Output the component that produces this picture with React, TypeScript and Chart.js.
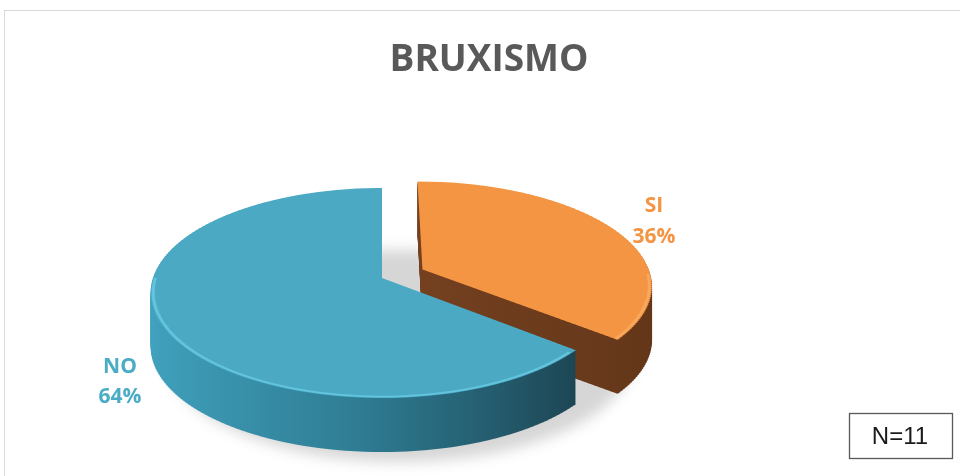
import React, { useEffect, useRef } from "react";
import { Chart, registerables } from "chart.js";

Chart.register(...registerables);

// ---- data ----
const categories = ["SI", "NO"];
const values = [36, 64];
const percentLabels = ["36%", "64%"];
const chartTitle = "BRUXISMO";
const sampleNote = "N=11";

// ---- styles ----
const topColors = ["#F39543", "#4BA9C4"];
const textColors = ["#F39543", "#4BACC6"];
const explode = [46, 0]; // px the slice is pulled out

const W = 960;
const H = 476;
const RADIUS = 233;
const CX = 382;
const CY_S = 278; // screen y of pie centre
const P = 0.143; // vertical perspective strength
const PX = 0.14; // horizontal perspective strength
const A = 102.9; // vertical half-size factor
const BR = 229 / 233; // horizontal scale
const DEPTH = 54;
const STRIP = 2;
const YS_MIN = 170;
const YS_MAX = 404;

// draw fn() through a perspective-like projection, strip by strip
function withStrips(
  ctx: CanvasRenderingContext2D,
  cx: number,
  cy: number,
  t: number,
  vRange: [number, number],
  fn: () => void
) {
  for (let ys = YS_MIN; ys < YS_MAX; ys += STRIP) {
    const y0 = ys - CY_S;
    const y1 = ys + STRIP - CY_S;
    const v0 = y0 / (A + P * y0);
    const v1 = y1 / (A + P * y1);
    if (v1 < vRange[0] - 0.02 || v0 > vRange[1] + 0.02) continue;
    const vm = (v0 + v1) / 2;
    const sx = BR / (1 - PX * vm);
    const sy = STRIP / ((v1 - v0) * RADIUS);
    ctx.save();
    ctx.beginPath();
    ctx.rect(0, ys + t, W, STRIP);
    ctx.clip();
    ctx.setTransform(sx, 0, 0, sy, cx - sx * cx, ys + t - sy * (cy + v0 * RADIUS));
    fn();
    ctx.restore();
  }
}

function drawArc(ctx: CanvasRenderingContext2D, arc: any, i: number, fill: any) {
  const half = (arc.startAngle + arc.endAngle) / 2;
  ctx.save();
  ctx.translate(Math.cos(half) * explode[i], Math.sin(half) * explode[i]);
  const orig = arc.options;
  arc.options = { ...orig, backgroundColor: fill, offset: 0 };
  arc.draw(ctx);
  arc.options = orig;
  ctx.restore();
}

function vRangeOf(arc: any, i: number): [number, number] {
  const half = (arc.startAngle + arc.endAngle) / 2;
  const vc = (Math.sin(half) * explode[i]) / RADIUS;
  let lo = 0;
  let hi = 0;
  const n = 60;
  for (let k = 0; k <= n; k++) {
    const a = arc.startAngle + ((arc.endAngle - arc.startAngle) * k) / n;
    const s = Math.sin(a);
    lo = Math.min(lo, s);
    hi = Math.max(hi, s);
  }
  return [vc + lo, vc + hi];
}

const pie3d = {
  id: "pie3d",
  beforeDatasetsDraw(chart: any) {
    const ctx = chart.ctx as CanvasRenderingContext2D;
    const arcs = chart.getDatasetMeta(0).data as any[];
    const cy = arcs[0].y;
    const cx = arcs[0].x;

    // soft shadow below the pie
    ctx.save();
    ctx.filter = "blur(7px)";
    ctx.fillStyle = "rgba(0,0,0,0.16)";
    ctx.beginPath();
    ctx.ellipse(cx + 18, CY_S + DEPTH + 24, RADIUS, 106, 0, 0, Math.PI * 2);
    ctx.fill();
    ctx.restore();

    const blueSide = ctx.createLinearGradient(cx - RADIUS, 0, cx + RADIUS * 0.8, 0);
    blueSide.addColorStop(0, "#41A3BF");
    blueSide.addColorStop(0.5, "#2F7D94");
    blueSide.addColorStop(1, "#1C4452");
    const orangeSide = ctx.createLinearGradient(cx, 0, cx + RADIUS * 1.2, 0);
    orangeSide.addColorStop(0, "#744020");
    orangeSide.addColorStop(1, "#5F3417");
    const sides = [orangeSide, blueSide];

    arcs.forEach((arc, i) => {
      const vr = vRangeOf(arc, i);
      for (let t = DEPTH; t > 0; t -= 1) {
        withStrips(ctx, cx, cy, t, vr, () => drawArc(ctx, arc, i, sides[i]));
      }
    });
    arcs.forEach((arc, i) => {
      const vr = vRangeOf(arc, i);
      withStrips(ctx, cx, cy, 0, vr, () => drawArc(ctx, arc, i, topColors[i]));
    });
    // rim highlight along the near edge of the top faces
    arcs.forEach((arc, i) => {
      const a0 = Math.max(arc.startAngle, 0);
      const a1 = Math.min(arc.endAngle, Math.PI);
      if (a1 <= a0) return;
      const half = (arc.startAngle + arc.endAngle) / 2;
      const x = arc.x + Math.cos(half) * explode[i];
      const y = arc.y + Math.sin(half) * explode[i];
      withStrips(ctx, cx, cy, 0, [0, 1.1], () => {
        ctx.beginPath();
        ctx.arc(x, y, arc.outerRadius - 2.5, a0 + 0.03, a1);
        ctx.strokeStyle = i === 1 ? "rgba(110,208,234,0.7)" : "rgba(255,185,120,0.5)";
        ctx.lineWidth = 3;
        ctx.stroke();
      });
    });
    return false; // everything drawn above through the arc elements
  },
  afterDraw(chart: any) {
    const ctx = chart.ctx as CanvasRenderingContext2D;
    ctx.save();
    // frame
    ctx.strokeStyle = "#D9D9D9";
    ctx.lineWidth = 1;
    ctx.strokeRect(4.5, 10.5, 1000, 600);
    // title
    ctx.fillStyle = "#595959";
    ctx.font = "bold 37px 'Open Sans'";
    ctx.textAlign = "center";
    ctx.textBaseline = "alphabetic";
    ctx.fillText(chartTitle, 489, 71);
    // labels
    ctx.font = "bold 21px 'Open Sans'";
    ctx.textBaseline = "middle";
    const pos = [
      [654, 206, 654, 237],
      [120, 367, 120, 397],
    ];
    categories.forEach((c, i) => {
      ctx.fillStyle = textColors[i];
      ctx.fillText(c, pos[i][0], pos[i][1]);
      ctx.fillText(percentLabels[i], pos[i][2], pos[i][3]);
    });
    // N box
    ctx.strokeStyle = "#595959";
    ctx.lineWidth = 1.3;
    ctx.strokeRect(849.5, 413.5, 103, 45);
    ctx.fillStyle = "#1A1A1A";
    ctx.font = "24px 'Liberation Sans'";
    ctx.textAlign = "center";
    ctx.textBaseline = "middle";
    ctx.fillText(sampleNote, 900, 437);
    ctx.restore();
  },
};

export default function App() {
  const ref = useRef<HTMLCanvasElement>(null);
  useEffect(() => {
    if (!ref.current) return;
    const chart = new Chart(ref.current, {
      type: "pie",
      data: {
        labels: categories,
        datasets: [
          {
            data: values,
            backgroundColor: topColors,
            borderWidth: 0,
            clip: false as any,
          },
        ],
      },
      options: {
        responsive: false,
        animation: false,
        radius: RADIUS,
        layout: { padding: { left: 0, right: W - 2 * CX, top: 0, bottom: 0 } },
        plugins: {
          legend: { display: false },
          title: { display: false },
          tooltip: { enabled: false },
        },
        events: [],
      } as any,
      plugins: [pie3d],
    });
    return () => chart.destroy();
  }, []);
  return (
    <div style={{ position: "absolute", left: 0, top: 0, width: W, height: H, background: "#fff" }}>
      <canvas ref={ref} width={W} height={H} style={{ display: "block" }} />
    </div>
  );
}
